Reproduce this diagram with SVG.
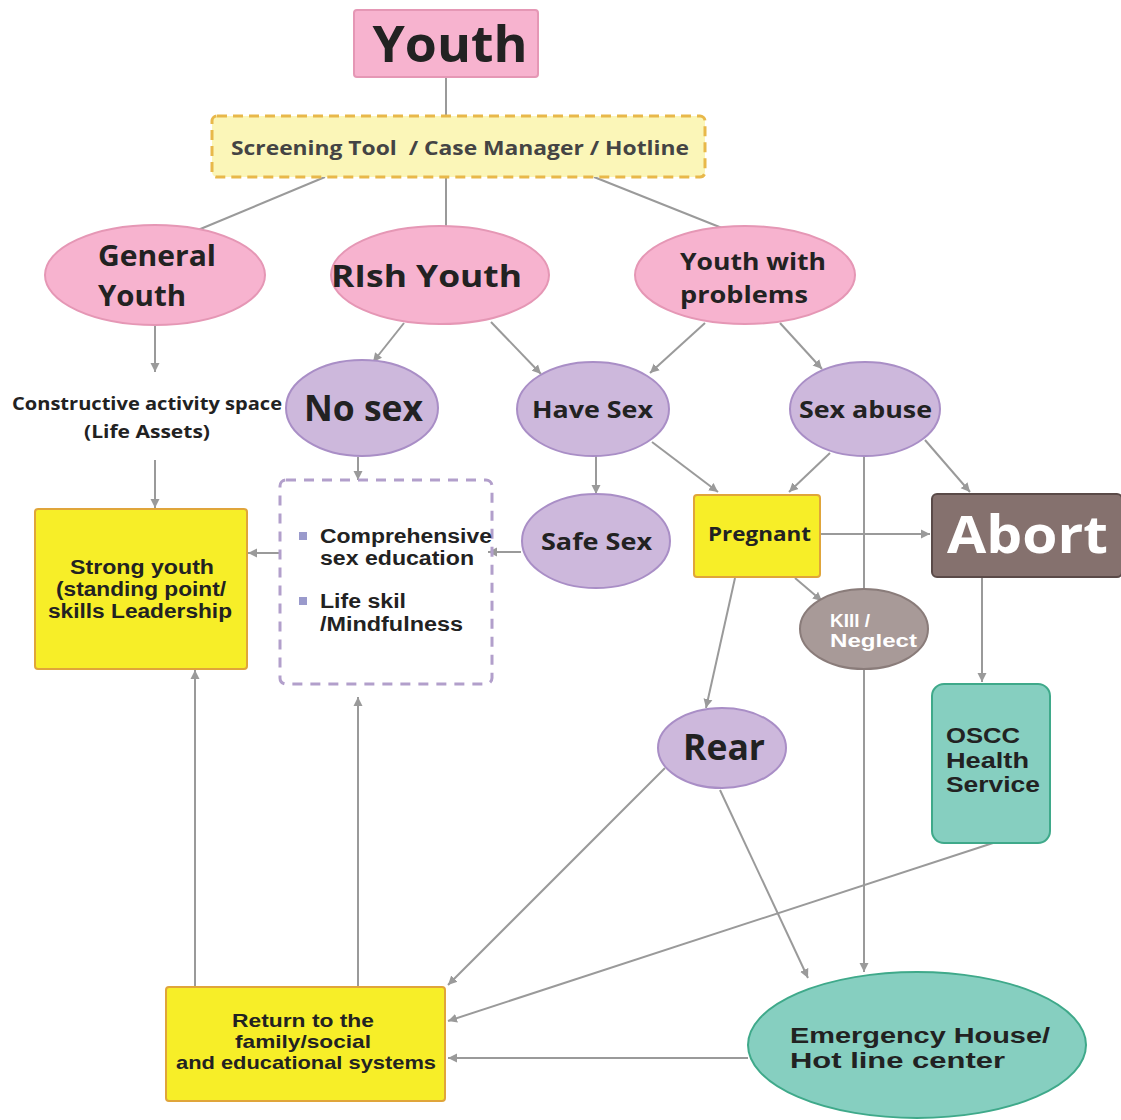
<svg xmlns="http://www.w3.org/2000/svg" width="1121" height="1120" viewBox="0 0 1121 1120">
  <defs>
    <marker id="arr" markerWidth="10" markerHeight="10" refX="9" refY="5" orient="auto" markerUnits="userSpaceOnUse">
      <path d="M0,0.5 L9,5 L0,9.5 Z" fill="#9a9a9a"/>
    </marker>
  </defs>
  <style>
    text { font-family: "Open Sans", "Noto Sans", "DejaVu Sans", sans-serif; font-weight: 700; fill: #222; }
    .tight { font-family: "Liberation Sans", Arial, sans-serif; }
    .pink { fill: #f7b3cf; stroke: #e597b5; stroke-width: 2; }
    .lilac { fill: #cdb8dc; stroke: #a98ec6; stroke-width: 2; }
    .yellow { fill: #f7ee28; stroke: #e0a53a; stroke-width: 2; }
    .teal { fill: #86cfc0; stroke: #3fa98a; stroke-width: 2; }
    .line { stroke: #9a9a9a; stroke-width: 2; fill: none; }
    .arrow { stroke: #9a9a9a; stroke-width: 2; fill: none; marker-end: url(#arr); }
    .c { text-anchor: middle; }
    .white { fill: #ffffff; }
  </style>
  <rect width="1121" height="1120" fill="#ffffff"/>

  <!-- connectors -->
  <g id="connectors">
    <line class="line" x1="446" y1="77" x2="446" y2="116"/>
    <line class="line" x1="325" y1="177" x2="198" y2="230"/>
    <line class="line" x1="446" y1="177" x2="446" y2="228"/>
    <line class="line" x1="594" y1="177" x2="722" y2="228"/>
    <line class="arrow" x1="155" y1="325" x2="155" y2="372"/>
    <line class="arrow" x1="155" y1="460" x2="155" y2="508"/>
    <line class="arrow" x1="404" y1="323" x2="373" y2="362"/>
    <line class="arrow" x1="491" y1="322" x2="541" y2="374"/>
    <line class="arrow" x1="705" y1="323" x2="650" y2="373"/>
    <line class="arrow" x1="780" y1="323" x2="822" y2="369"/>
    <line class="arrow" x1="358" y1="457" x2="358" y2="480"/>
    <line class="arrow" x1="596" y1="456" x2="596" y2="494"/>
    <line class="arrow" x1="652" y1="442" x2="718" y2="492"/>
    <line class="arrow" x1="830" y1="453" x2="789" y2="492"/>
    <line class="arrow" x1="925" y1="440" x2="970" y2="492"/>
    <line class="arrow" x1="864" y1="456" x2="864" y2="972"/>
    <line class="arrow" x1="521" y1="552" x2="488" y2="552"/>
    <line class="arrow" x1="280" y1="553" x2="248" y2="553"/>
    <line class="arrow" x1="820" y1="534" x2="930" y2="534"/>
    <line class="arrow" x1="795" y1="578" x2="822" y2="601"/>
    <line class="arrow" x1="735" y1="578" x2="706" y2="708"/>
    <line class="arrow" x1="982" y1="577" x2="982" y2="682"/>
    <line class="arrow" x1="665" y1="768" x2="448" y2="985"/>
    <line class="arrow" x1="720" y1="790" x2="808" y2="978"/>
    <line class="arrow" x1="993" y1="843" x2="448" y2="1021"/>
    <line class="arrow" x1="748" y1="1058" x2="448" y2="1058"/>
    <line class="arrow" x1="195" y1="987" x2="195" y2="670"/>
    <line class="arrow" x1="358" y1="987" x2="358" y2="697"/>
  </g>

  <g id="youth">
    <rect class="pink" x="354" y="10" width="184" height="67" rx="3"/>
    <text class="c" x="450" y="62" font-size="50" textLength="155" lengthAdjust="spacingAndGlyphs">Youth</text>
  </g>

  <g id="screening">
    <rect x="212" y="116" width="493" height="61" rx="5" fill="#fbf6b8" stroke="#e8b84a" stroke-width="3" stroke-dasharray="10 6"/>
    <text x="231" y="155" font-size="20" style="fill:#444;white-space:pre" textLength="458" lengthAdjust="spacingAndGlyphs">Screening Tool  / Case Manager / Hotline</text>
  </g>

  <g id="general-youth">
    <ellipse class="pink" cx="155" cy="275" rx="110" ry="50"/>
    <text x="98" y="266" font-size="29" textLength="118" lengthAdjust="spacingAndGlyphs">General</text>
    <text x="98" y="306" font-size="29" textLength="88" lengthAdjust="spacingAndGlyphs">Youth</text>
  </g>

  <g id="risk-youth">
    <ellipse class="pink" cx="440" cy="275" rx="109" ry="49"/>
    <text x="331" y="287" font-size="30" textLength="191" lengthAdjust="spacingAndGlyphs">RIsh Youth</text>
  </g>

  <g id="youth-with-problems">
    <ellipse class="pink" cx="745" cy="275" rx="110" ry="49"/>
    <text x="680" y="270" font-size="24" textLength="146" lengthAdjust="spacingAndGlyphs">Youth with</text>
    <text x="680" y="303" font-size="24" textLength="128" lengthAdjust="spacingAndGlyphs">problems</text>
  </g>

  <g id="constructive">
    <text x="12" y="410" font-size="17" textLength="270" lengthAdjust="spacingAndGlyphs">Constructive activity space</text>
    <text x="84" y="438" font-size="17" textLength="126" lengthAdjust="spacingAndGlyphs">(Life Assets)</text>
  </g>

  <g id="no-sex">
    <ellipse class="lilac" cx="362" cy="408" rx="76" ry="48"/>
    <text x="304" y="421" font-size="35" textLength="119" lengthAdjust="spacingAndGlyphs">No sex</text>
  </g>

  <g id="have-sex">
    <ellipse class="lilac" cx="593" cy="409" rx="76" ry="47"/>
    <text x="532" y="418" font-size="24" textLength="121" lengthAdjust="spacingAndGlyphs">Have Sex</text>
  </g>

  <g id="sex-abuse">
    <ellipse class="lilac" cx="865" cy="409" rx="75" ry="47"/>
    <text x="799" y="418" font-size="24" textLength="133" lengthAdjust="spacingAndGlyphs">Sex abuse</text>
  </g>

  <g id="strong-youth">
    <rect class="yellow" x="35" y="509" width="212" height="160" rx="3"/>
    <text class="c tight" x="142" y="574" font-size="19.5" textLength="144" lengthAdjust="spacingAndGlyphs">Strong youth</text>
    <text class="c tight" x="141" y="596" font-size="19.5" textLength="170" lengthAdjust="spacingAndGlyphs">(standing point/</text>
    <text class="c tight" x="140" y="618" font-size="19.5" textLength="184" lengthAdjust="spacingAndGlyphs">skills Leadership</text>
  </g>

  <g id="education">
    <rect x="280" y="480" width="212" height="204" rx="6" fill="none" stroke="#b29fcb" stroke-width="3" stroke-dasharray="10 8"/>
    <rect x="299" y="532" width="8" height="8" fill="#9a9acc"/>
    <rect x="299" y="597" width="8" height="8" fill="#9a9acc"/>
    <text class="tight" x="320" y="543" font-size="19.5" textLength="172" lengthAdjust="spacingAndGlyphs">Comprehensive</text>
    <text class="tight" x="320" y="565" font-size="19.5" textLength="154" lengthAdjust="spacingAndGlyphs">sex education</text>
    <text class="tight" x="320" y="608" font-size="19.5" textLength="86" lengthAdjust="spacingAndGlyphs">Life skil</text>
    <text class="tight" x="320" y="631" font-size="19.5" textLength="143" lengthAdjust="spacingAndGlyphs">/Mindfulness</text>
  </g>

  <g id="safe-sex">
    <ellipse class="lilac" cx="596" cy="541" rx="74" ry="47"/>
    <text x="541" y="550" font-size="24" textLength="111" lengthAdjust="spacingAndGlyphs">Safe Sex</text>
  </g>

  <g id="pregnant">
    <rect class="yellow" x="694" y="495" width="126" height="82" rx="3"/>
    <text x="708" y="541" font-size="20" textLength="103" lengthAdjust="spacingAndGlyphs">Pregnant</text>
  </g>

  <g id="abort">
    <rect x="932" y="494" width="190" height="83" rx="5" fill="#85716e" stroke="#5a4a48" stroke-width="2"/>
    <text x="947" y="553" font-size="52" style="fill:#fff" textLength="161" lengthAdjust="spacingAndGlyphs">Abort</text>
  </g>

  <g id="kill-neglect">
    <ellipse cx="864" cy="629" rx="64" ry="40" fill="#a89a98" stroke="#8a7c7a" stroke-width="2"/>
    <text class="tight" x="830" y="627" font-size="17.5" style="fill:#fff" textLength="40" lengthAdjust="spacingAndGlyphs">KIll /</text>
    <text class="tight" x="830" y="647" font-size="17.5" style="fill:#fff" textLength="87" lengthAdjust="spacingAndGlyphs">Neglect</text>
  </g>

  <g id="rear">
    <ellipse class="lilac" cx="722" cy="748" rx="64" ry="40"/>
    <text x="683" y="760" font-size="36" textLength="82" lengthAdjust="spacingAndGlyphs">Rear</text>
  </g>

  <g id="oscc">
    <rect class="teal" x="932" y="684" width="118" height="159" rx="12"/>
    <text class="tight" x="946" y="743" font-size="21.5" textLength="74" lengthAdjust="spacingAndGlyphs">OSCC</text>
    <text class="tight" x="946" y="768" font-size="21.5" textLength="83" lengthAdjust="spacingAndGlyphs">Health</text>
    <text class="tight" x="946" y="792" font-size="21.5" textLength="94" lengthAdjust="spacingAndGlyphs">Service</text>
  </g>

  <g id="return">
    <rect class="yellow" x="166" y="987" width="279" height="114" rx="3"/>
    <text class="c tight" x="303" y="1027" font-size="18.5" textLength="142" lengthAdjust="spacingAndGlyphs">Return to the</text>
    <text class="c tight" x="303" y="1048" font-size="18.5" textLength="136" lengthAdjust="spacingAndGlyphs">family/social</text>
    <text class="c tight" x="306" y="1069" font-size="18.5" textLength="260" lengthAdjust="spacingAndGlyphs">and educational systems</text>
  </g>

  <g id="emergency">
    <ellipse class="teal" cx="917" cy="1045" rx="169" ry="73"/>
    <text class="tight" x="790" y="1043" font-size="22" textLength="260" lengthAdjust="spacingAndGlyphs">Emergency House/</text>
    <text class="tight" x="790" y="1068" font-size="22" textLength="215" lengthAdjust="spacingAndGlyphs">Hot line center</text>
  </g>
</svg>
